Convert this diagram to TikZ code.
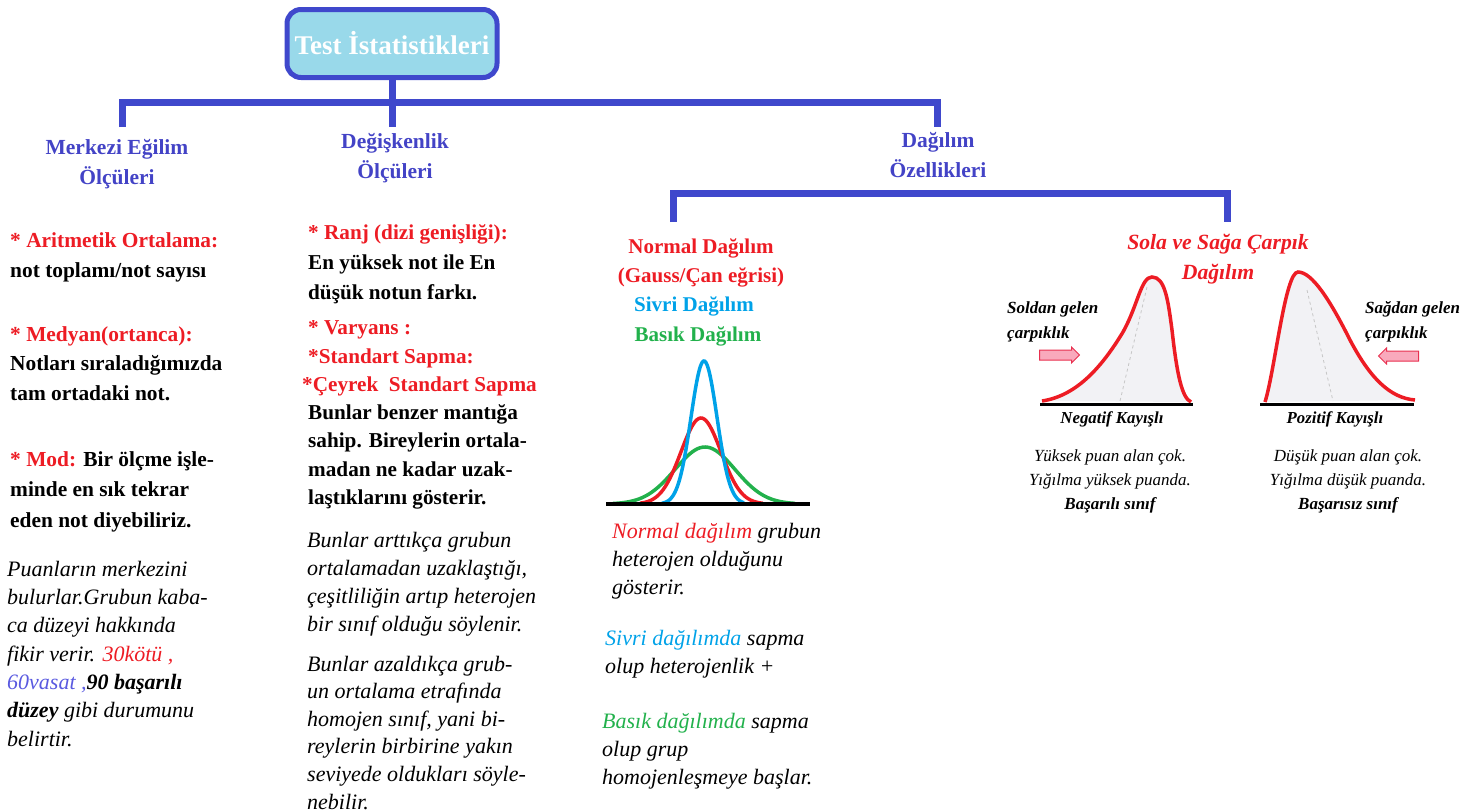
\documentclass[tikz,border=0pt]{standalone}
\usepackage{fontspec}
\setmainfont{Liberation Serif}
\usetikzlibrary{calc,positioning,shapes.arrows}
\definecolor{barblue}{HTML}{3F48CC}
\definecolor{headblue}{HTML}{4343C6}
\definecolor{boxfill}{HTML}{99D9EA}
\definecolor{hdred}{HTML}{ED1C24}
\definecolor{sivri}{HTML}{00A2E8}
\definecolor{basik}{HTML}{22B14C}
\definecolor{vasat}{HTML}{5A5AE0}
\definecolor{arrpink}{HTML}{F9A9BC}
\definecolor{arrred}{HTML}{E8304F}
\definecolor{curvebg}{HTML}{F2F2F5}
\begin{document}
\begin{tikzpicture}[x=1pt,y=-1pt,
        bar/.style={line width=7pt, draw=barblue},
        curve/.style={line width=3.5pt},
    ]
    % title box and blue headers
    \tikzstyle{titlebox}=[draw=barblue, line width=5pt, fill=boxfill, rounded corners=14pt, minimum width=210pt, minimum height=68pt, text=white, font=\fontsize{27}{30}\selectfont\bfseries]
    \tikzstyle{head}=[inner sep=0, align=center, anchor=base, text=headblue, font=\fontsize{21.5}{30}\selectfont\bfseries]
    % bold and italic text blocks (anchor is the baseline of the last line)
    \tikzstyle{body}=[inner sep=0, align=left, anchor=base west, font=\fontsize{21.4}{29.5}\selectfont\bfseries]
    \tikzstyle{note}=[inner sep=0, align=left, anchor=base west, font=\fontsize{22}{28.3}\selectfont\itshape]
    % labels round the skewed curves
    \tikzstyle{skewlbl}=[inner sep=0, align=left, anchor=base west, font=\fontsize{17}{25}\selectfont\bfseries\itshape]
    \tikzstyle{kayis}=[inner sep=0, anchor=base, font=\fontsize{16.8}{20}\selectfont\bfseries\itshape]
    \tikzstyle{skewnote}=[inner sep=0, align=center, anchor=base, font=\fontsize{17}{24}\selectfont\itshape]
    \tikzstyle{pinkarrow}=[single arrow, draw=arrred, fill=arrpink, line width=1pt, inner sep=4.5pt, minimum height=40pt, single arrow head extend=3pt]

    \useasboundingbox (0,0) rectangle (1467,811);

    \node[titlebox] (title) at (392,43.5) {Test İstatistikleri};
    \coordinate (jL) at (122,102);
    \coordinate (jR) at (937,102);
    \coordinate (stubL) at (122,127);
    \coordinate (stubM) at (392,127);
    \coordinate (stubR) at (937,127);
    \draw[bar] (title.south) -- (stubM);
    \draw[bar] (stubL) -- (jL) -- (jR) -- (stubR);

    \node[head] (merkezi) at ($(stubL)+(-5,57)$) {Merkezi Eğilim\\Ölçüleri};
    \node[head] (degisken) at ($(stubM)+(3,51)$) {Değişkenlik\\Ölçüleri};
    \node[head] (dagilim) at ($(stubR)+(1,50)$) {Dağılım\\Özellikleri};

    \coordinate (dL) at (673,193);
    \coordinate (dR) at (1227,193);
    \coordinate (dstubL) at (673,222);
    \coordinate (dstubR) at (1227,222);
    \draw[bar] (dstubL) -- (dL) -- (dR) -- (dstubR);

    % merkezi egilim column
    \node[body] (arit) at (10,277) {\textcolor{hdred}{* Aritmetik Ortalama:}\\not toplamı/not sayısı};
    \node[body] (medyan) at (10,400) {\textcolor{hdred}{* Medyan(ortanca):}\\Notları sıraladığımızda\\tam ortadaki not.};
    \node[body, font=\fontsize{21.4}{30.5}\selectfont\bfseries] (mod) at (10,527) {\textcolor{hdred}{* Mod:} Bir ölçme işle-\\minde en sık tekrar\\eden not diyebiliriz.};
    \node[note] (puan) at (7,746) {Puanların merkezini\\bulurlar.Grubun kaba-\\ca düzeyi hakkında\\fikir verir. \textcolor{hdred}{30kötü ,}\\\textcolor{vasat}{60vasat ,}\textbf{90 başarılı}\\\textbf{düzey} gibi durumunu\\belirtir.};

    % degiskenlik column
    \node[body, font=\fontsize{21.2}{30}\selectfont\bfseries] (ranj) at (308,299.5) {\textcolor{hdred}{* Ranj (dizi genişliği):}\\En yüksek not ile En\\düşük notun farkı.};
    \node[body, font=\fontsize{21.2}{28.3}\selectfont\bfseries] (varyans) at (308,504.5) {\textcolor{hdred}{* Varyans :}\\\textcolor{hdred}{*Standart Sapma:}\\\hspace*{-6pt}\textcolor{hdred}{*Çeyrek\ \ Standart Sapma}\\Bunlar benzer mantığa\\sahip. Bireylerin ortala-\\madan ne kadar uzak-\\laştıklarını gösterir.};
    \node[note, font=\fontsize{22}{27.7}\selectfont\itshape] (arttikca) at (307,631) {Bunlar arttıkça grubun\\ortalamadan uzaklaştığı,\\çeşitliliğin artıp heterojen\\bir sınıf olduğu söylenir.};
    \node[note, font=\fontsize{22}{27.6}\selectfont\itshape] (azaldikca) at (307,809) {Bunlar azaldıkça grub-\\un ortalama etrafında\\homojen sınıf, yani bi-\\reylerin birbirine yakın\\seviyede oldukları söyle-\\nebilir.};

    % normal, sivri, basik
    \node[body, anchor=base, align=center, text=hdred, font=\fontsize{21}{29}\selectfont\bfseries] (normal) at (701,282) {Normal Dağılım\\(Gauss/Çan eğrisi)};
    \node[body, anchor=base, text=sivri, font=\fontsize{21}{29}\selectfont\bfseries] (sivrilbl) at (694,311) {Sivri Dağılım};
    \node[body, anchor=base, text=basik, font=\fontsize{21}{29}\selectfont\bfseries] (basiklbl) at (698,341) {Basık Dağılım};
    \draw[curve, basik] plot[domain=613:795, samples=70, smooth] (\x, {504-57*exp(-0.5*((\x-705)/30)^2)});
    \draw[curve, hdred] plot[domain=640:763, samples=70, smooth] (\x, {504-86*exp(-0.5*((\x-701)/20)^2)});
    \draw[curve, sivri] plot[domain=662:744, samples=70, smooth] (\x, {504-143*exp(-0.5*((\x-704)/13)^2)});
    \draw[line width=3.5pt] (606,504) -- (810,504);
    \node[note, font=\fontsize{22}{28}\selectfont\itshape] (normnote) at (612,594) {\textcolor{hdred}{Normal dağılım} grubun\\heterojen olduğunu\\gösterir.};
    \node[note, font=\fontsize{22}{27.5}\selectfont\itshape] (sivrinote) at (605,673) {\textcolor{sivri}{Sivri dağılımda} sapma\\olup heterojenlik +};
    \node[note, font=\fontsize{22}{28}\selectfont\itshape] (basiknote) at (602,784) {\textcolor{basik}{Basık dağılımda} sapma\\olup grup\\homojenleşmeye başlar.};

    % skewed curves
    \node[inner sep=0, align=center, anchor=base, text=hdred, font=\fontsize{21.7}{30}\selectfont\bfseries\itshape] (carpik) at (1218,279) {Sola ve Sağa Çarpık\\Dağılım};
    \fill[curvebg] (1042,401) .. controls (1075,396) and (1100,370) .. (1123,332) .. controls (1138,305) and (1141,277) .. (1152,277) .. controls (1165,277) and (1168,300) .. (1172,330) .. controls (1177,375) and (1182,398) .. (1191,402) -- cycle;
    \draw[gray!45, dashed, line width=0.8pt] (1147,287) -- (1120,401);
    \draw[curve, hdred] (1042,401) .. controls (1075,396) and (1100,370) .. (1123,332) .. controls (1138,305) and (1141,277) .. (1152,277) .. controls (1165,277) and (1168,300) .. (1172,330) .. controls (1177,375) and (1182,398) .. (1191,402);
    \draw[line width=3pt] (1040,404) -- (1193,404);
    \fill[curvebg] (1265,402) .. controls (1275,370) and (1285,272) .. (1298,272) .. controls (1312,272) and (1330,300) .. (1350,340) .. controls (1370,378) and (1390,398) .. (1415,400) -- cycle;
    \draw[gray!45, dashed, line width=0.8pt] (1307,290) -- (1333,401);
    \draw[curve, hdred] (1265,402) .. controls (1275,370) and (1285,272) .. (1298,272) .. controls (1312,272) and (1330,300) .. (1350,340) .. controls (1370,378) and (1390,398) .. (1415,400);
    \draw[line width=3pt] (1260,404) -- (1414,404);

    \node[skewlbl] (soldan) at (1007,338) {Soldan gelen\\çarpıklık};
    \node[skewlbl] (sagdan) at (1365,338) {Sağdan gelen\\çarpıklık};
    \node[pinkarrow] (arrL) at (1057,355) {};
    \node[pinkarrow, shape border rotate=180] (arrR) at (1401,356) {};
    \node[kayis] (negatif) at (1112,423) {Negatif Kayışlı};
    \node[kayis] (pozitif) at (1335,423) {Pozitif Kayışlı};
    \node[skewnote] (negnote) at (1110,509) {Yüksek puan alan çok.\\Yığılma yüksek puanda.\\\textbf{Başarılı sınıf}};
    \node[skewnote] (poznote) at (1348,509) {Düşük puan alan çok.\\Yığılma düşük puanda.\\\textbf{Başarısız sınıf}};
\end{tikzpicture}
\end{document}
